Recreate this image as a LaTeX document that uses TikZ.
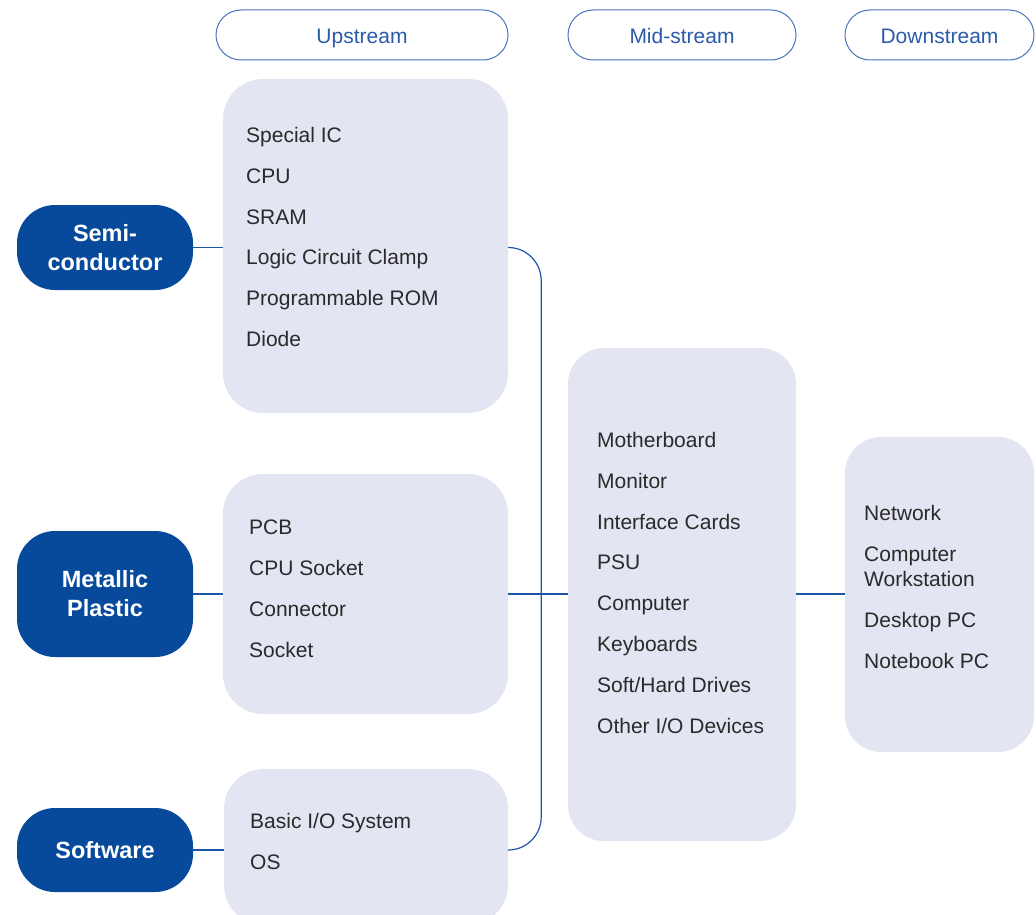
\documentclass[tikz,border=0pt]{standalone}
\usepackage{fontspec}
\setmainfont{Liberation Sans}
\definecolor{boxfill}{HTML}{E3E5F2}
\definecolor{darkblue}{HTML}{074A9C}
\definecolor{lineblue}{HTML}{1D55A8}
\definecolor{headblue}{HTML}{2A5BAA}
\definecolor{headline}{HTML}{4A74BE}
\definecolor{txt}{HTML}{2A2A2A}
\begin{document}
\begin{tikzpicture}[x=1pt,y=-1pt,
  lightbox/.style={fill=boxfill,draw=none,rounded corners=40pt,inner sep=0pt},
  sidepill/.style={fill=darkblue,draw=none,rounded corners=38pt,inner sep=0pt,
     text=white,font=\fontsize{23.5}{29}\selectfont\bfseries,align=center},
  headpill/.style={draw=headline,line width=1pt,fill=white,rounded corners=25pt,
     inner sep=0pt,minimum height=50pt,text height=16.5pt,text depth=0pt,
     text=headblue,font=\fontsize{21}{24}\selectfont},
  item/.style={anchor=base west,inner sep=0pt,text=txt,font=\fontsize{21}{25}\selectfont},
  conn/.style={draw=lineblue,line width=1.2pt}]
\useasboundingbox (0,0) rectangle (1036,915);
\begin{scope}
\clip (0,0) rectangle (1036,915);
% header pills
\node[headpill,minimum width=292pt] (hup) at (362,35) {Upstream};
\node[headpill,minimum width=228pt] (hmid) at (682,35) {Mid-stream};
\node[headpill,minimum width=189pt] (hdown) at (939.5,35) {Downstream};
% light boxes
\node[lightbox,minimum width=285pt,minimum height=334pt] (b1) at (365.5,246) {};
\node[lightbox,minimum width=285pt,minimum height=240pt] (b2) at (365.5,594) {};
\node[lightbox,minimum width=284pt,minimum height=156pt] (b3) at (366,847) {};
\node[lightbox,minimum width=228pt,minimum height=493pt,rounded corners=36pt] (bmid) at (682,594.5) {};
\node[lightbox,minimum width=189pt,minimum height=315pt,rounded corners=36pt] (bdown) at (939.5,594.5) {};
% side pills
\node[sidepill,minimum width=176pt,minimum height=85pt] (semi) at (105,247.5) {Semi-\\conductor};
\node[sidepill,minimum width=176pt,minimum height=126pt] (metal) at (105,594) {Metallic\\Plastic};
\node[sidepill,minimum width=176pt,minimum height=84pt] (soft) at (105,850) {Software};
% items
\foreach \t [count=\i] in {Special IC,CPU,SRAM,Logic Circuit Clamp,Programmable ROM,Diode}
  \node[item] (u1-\i) at (246,{142.5+(\i-1)*40.8}) {\t};
\foreach \t [count=\i] in {PCB,CPU Socket,Connector,Socket}
  \node[item] (u2-\i) at (249,{534.5+(\i-1)*41}) {\t};
\foreach \t [count=\i] in {Basic I/O System,OS}
  \node[item] (u3-\i) at (250,{828.5+(\i-1)*41}) {\t};
\foreach \t [count=\i] in {Motherboard,Monitor,Interface Cards,PSU,Computer,Keyboards,Soft/Hard Drives,Other I/O Devices}
  \node[item] (m-\i) at (597,{447.5+(\i-1)*40.8}) {\t};
\node[item] (d-1) at (864,520.5) {Network};
\node[item] (d-2) at (864,561.5) {Computer};
\node[item] (d-3) at (864,586.5) {Workstation};
\node[item] (d-4) at (864,627.5) {Desktop PC};
\node[item] (d-5) at (864,668.5) {Notebook PC};
% connectors
\draw[conn] (semi.east) -- (semi.east -| b1.west);
\draw[conn] (metal.east) -- (metal.east -| b2.west);
\draw[conn] (soft.east) -- (soft.east -| b3.west);
\coordinate (top) at (b1.east |- semi.east);
\coordinate (bot) at (b3.east |- soft.east);
\draw[conn,rounded corners=33pt] (top) -- ++(33,0) |- (bot);
\draw[conn] (metal.east -| b2.east) -- (metal.east -| bmid.west);
\draw[conn] (metal.east -| bmid.east) -- (metal.east -| bdown.west);
\end{scope}
\end{tikzpicture}
\end{document}
